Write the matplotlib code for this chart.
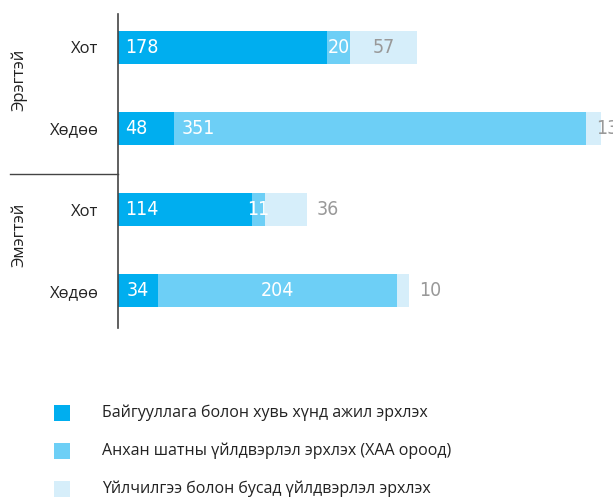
import matplotlib
matplotlib.use("Agg")
import matplotlib.pyplot as plt
from matplotlib.patches import Rectangle
from matplotlib.lines import Line2D
from matplotlib import font_manager as fm
import matplotlib.transforms as mtransforms

categories = ["Хот", "Хөдөө", "Хот", "Хөдөө"]
groups = ["Эрэгтэй", "Эмэгтэй"]
series_names = ["Байгууллага болон хувь хүнд ажил эрхлэх",
                "Анхан шатны үйлдвэрлэл эрхлэх (ХАА ороод)",
                "Үйлчилгээ болон бусад үйлдвэрлэл эрхлэх"]
org = [178, 48, 114, 34]
primary = [20, 351, 11, 204]
service = [57, 13, 36, 10]

colors = ["#00AEEF", "#6DCFF6", "#D6EEFA"]
text_colors = ["white", "white", "#999999"]
# label placement modes per series per bar
modes = [["left", "left", "left", "center"],
         ["center", "left", "center", "center"],
         ["center", "after", "outside", "outside"]]

num_font = fm.FontProperties(family="DejaVu Sans", stretch="condensed", size=14)

fig = plt.figure(figsize=(6.13, 4.99), dpi=100)
ax = fig.add_axes([118/613, 1-328/499, 1-118/613, 314/499])
ypos = list(range(len(categories)))
series = [org, primary, service]
lefts = [0]*len(categories)
for s, vals in enumerate(series):
    ax.barh(ypos, vals, left=lefts, height=0.41, color=colors[s], linewidth=0)
    for i, v in enumerate(vals):
        m = modes[s][i]
        if m == "center":
            x, dx, ha = lefts[i] + v/2, 0, "center"
        elif m == "left":
            x, dx, ha = lefts[i], 7, "left"
        elif m == "after":
            x, dx, ha = lefts[i], 10, "left"
        else:
            x, dx, ha = lefts[i] + v, 10, "left"
        tr = ax.transData + mtransforms.ScaledTranslation(dx/100, 0, fig.dpi_scale_trans)
        ax.text(x, i, str(v), transform=tr, ha=ha, va="center",
                color=text_colors[s], fontproperties=num_font, clip_on=False)
    lefts = [a + b for a, b in zip(lefts, vals)]

ax.set_xlim(0, 422)
ax.set_ylim(3.46, -0.41)
ax.set_yticks(ypos)
ax.set_yticklabels(categories, fontsize=12, family=['Open Sans', 'DejaVu Sans'], color="#222222")
ax.tick_params(axis='y', length=0, pad=14)
ax.set_xticks([])
for sp in ["top", "right", "bottom"]:
    ax.spines[sp].set_visible(False)
ax.spines["left"].set_color("#444444")
ax.spines["left"].set_linewidth(1.2)

fig.add_artist(Line2D([10/613, 118/613], [1-174/499, 1-174/499], color="#444444", lw=1.0))
fig.text(19/613, 1-80/499, groups[0], rotation=90, ha="center", va="center",
         fontsize=12, family=['Open Sans', 'DejaVu Sans'], color="#222222")
fig.text(19/613, 1-235/499, groups[1], rotation=90, ha="center", va="center",
         fontsize=12, family=['Open Sans', 'DejaVu Sans'], color="#222222")

for k, name in enumerate(series_names):
    yc = 413 + 38*k
    fig.add_artist(Rectangle((54/613, 1-(yc+8)/499), 16/613, 16/499, color=colors[k], lw=0))
    fig.text(102/613, 1-yc/499, name, ha="left", va="center", fontsize=11.5,
             family=['Open Sans', 'DejaVu Sans'], color="#222222")

fig.savefig("out.png", dpi=100)
